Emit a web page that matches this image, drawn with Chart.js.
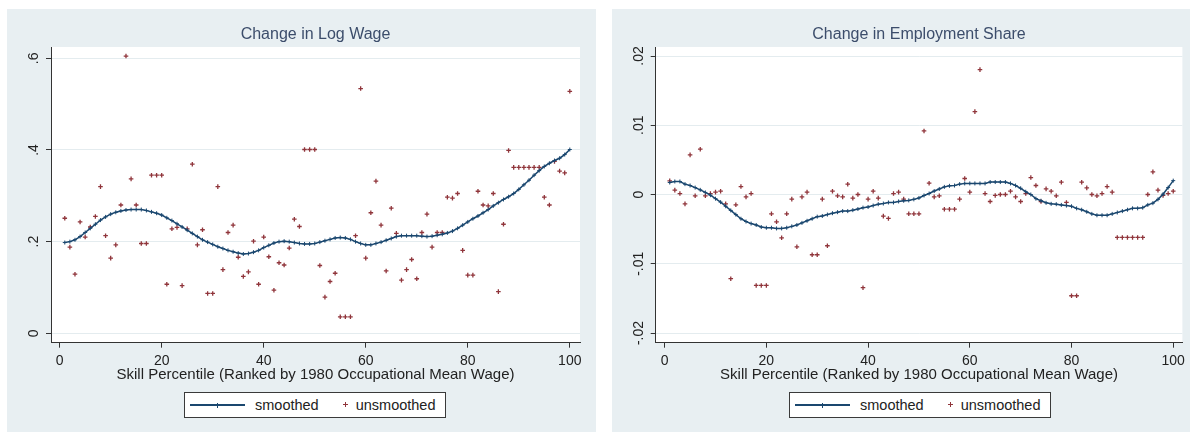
<!DOCTYPE html>
<html><head><meta charset="utf-8">
<script src="https://cdn.jsdelivr.net/npm/chart.js@4/dist/chart.umd.min.js"></script>
<style>
body{margin:0;width:1190px;height:432px;background:#fff;position:relative;overflow:hidden;font-family:"Liberation Sans",Arial,sans-serif;}
.panel{position:absolute;top:9px;height:423px;background:#e8eff2;}
#p1{left:7px;width:589px;}
#p2{left:612px;width:578px;}
canvas{position:absolute;left:0;top:0;}
.legend{position:absolute;left:177px;top:382.7px;width:262px;height:26px;box-sizing:border-box;border:1px solid #3a3a3a;background:#fff;color:#222;font-size:14.5px;}
.legend .ln{position:absolute;left:5px;top:11.5px;width:55px;height:1.4px;background:#1a476f;}
.legend .lv{position:absolute;left:31.5px;top:10px;width:1px;height:5px;background:#1a476f;}
.legend .t{position:absolute;top:0;line-height:24px;white-space:nowrap;}
.legend .mh{position:absolute;left:158px;top:11.5px;width:5px;height:1.3px;background:#90353b;}
.legend .mv{position:absolute;left:160px;top:9.6px;width:1.3px;height:5px;background:#90353b;}
</style></head>
<body>
<div class="panel" id="p1"><canvas id="c1" width="589" height="423"></canvas>
  <div class="legend"><div class="ln"></div><div class="lv"></div><span class="t" style="left:70px">smoothed</span><div class="mh"></div><div class="mv"></div><span class="t" style="left:170.7px">unsmoothed</span></div>
</div>
<div class="panel" id="p2"><canvas id="c2" width="578" height="423"></canvas>
  <div class="legend"><div class="ln"></div><div class="lv"></div><span class="t" style="left:70px">smoothed</span><div class="mh"></div><div class="mv"></div><span class="t" style="left:170.7px">unsmoothed</span></div>
</div>
<script>
// ---- data ----
const pct = [1,2,3,4,5,6,7,8,9,10,11,12,13,14,15,16,17,18,19,20,21,22,23,24,25,26,27,28,29,30,31,32,33,34,35,36,37,38,39,40,41,42,43,44,45,46,47,48,49,50,51,52,53,54,55,56,57,58,59,60,61,62,63,64,65,66,67,68,69,70,71,72,73,74,75,76,77,78,79,80,81,82,83,84,85,86,87,88,89,90,91,92,93,94,95,96,97,98,99,100];

const wageSmoothed = [.198,.200,.204,.211,.220,.229,.238,.247,.254,.260,
  .264,.267,.269,.270,.270,.270,.268,.265,.262,.258,
  .252,.246,.239,.232,.225,.218,.211,.204,.199,.194,
  .189,.185,.181,.178,.175,.173,.174,.177,.181,.187,
  .192,.197,.200,.201,.200,.198,.196,.195,.195,.196,
  .199,.202,.205,.208,.209,.208,.205,.200,.196,.193,
  .193,.196,.199,.203,.207,.211,.213,.213,.213,.213,
  .212,.211,.212,.214,.216,.219,.223,.229,.236,.243,
  .250,.256,.263,.270,.278,.285,.292,.298,.305,.314,
  .324,.334,.345,.355,.364,.371,.377,.382,.390,.401];

const wageRaw = [.251,.188,.129,.243,.210,.232,.255,.320,.213,.164,
  .193,.280,.605,.337,.280,.196,.196,.345,.345,.345,
  .107,.228,.231,.104,.228,.369,.193,.226,.087,.087,
  .320,.139,.220,.236,.166,.124,.134,.201,.107,.210,
  .167,.094,.154,.149,.186,.249,.233,.401,.401,.401,
  .148,.079,.113,.131,.036,.036,.036,.213,.534,.164,
  .263,.332,.236,.136,.273,.218,.116,.139,.161,.119,
  .220,.260,.188,.220,.220,.297,.295,.305,.181,.127,
  .127,.310,.280,.278,.305,.091,.238,.399,.362,.362,
  .362,.362,.362,.362,.297,.280,.375,.354,.350,.528];

const empSmoothed = [.00173,.00188,.00188,.0015,.0013,.001,.00067,.0003,-.0001,-.0006,
  -.0011,-.0017,-.0023,-.0029,-.0035,-.0039,-.0042,-.0044,-.0047,-.0048,
  -.0048,-.0049,-.0049,-.0048,-.0046,-.0044,-.0041,-.0038,-.0035,-.0032,
  -.0031,-.0029,-.0027,-.00255,-.0024,-.0024,-.00226,-.0021,-.0019,-.0018,
  -.0016,-.0014,-.0013,-.00115,-.00115,-.001,-.0009,-.00085,-.0007,-.0005,
  -.00014,.00014,.0005,.0008,.0011,.00125,.0013,.0015,.0016,.0016,
  .0016,.0016,.0016,.0018,.0018,.0018,.0018,.0016,.0013,.0009,
  .0004,0,-.0006,-.0009,-.0012,-.00135,-.0014,-.0015,-.0016,-.0017,
  -.002,-.0022,-.0025,-.0028,-.003,-.003,-.003,-.0028,-.0026,-.0024,
  -.0022,-.002,-.002,-.0019,-.0015,-.00125,-.0007,.00005,.001,.002];

const empRaw = [.00197,.00063,.00014,-.00135,.00572,-.00019,.00654,-.00019,.00014,.00034,
  .00048,-.00135,-.01216,-.00149,.00115,-.00034,.00014,-.01313,-.01313,-.01313,
  -.00279,-.00394,-.00625,-.00279,-.00067,-.00755,-.00034,.00034,-.0087,-.0087,
  -.00067,-.0074,.00048,-.00019,-.00034,.00149,-.00053,0,-.01346,-.00067,
  .00048,-.00053,-.00312,-.00346,.00014,.00034,-.00067,-.00279,-.00279,-.00279,
  .00918,.00163,-.00034,-.00019,-.00212,-.00212,-.00212,-.00067,.00231,.00034,
  .01197,.01803,.00014,-.00101,-.00014,0,0,.00048,-.00034,-.00101,
  .00014,.00245,.0013,-.00101,.00082,.00048,-.00019,.00178,-.00115,-.01462,
  -.01462,.00178,.00096,0,-.00019,.00014,.00115,.00034,-.0062,-.0062,
  -.0062,-.0062,-.0062,-.0062,0,.00327,.00063,-.00014,.00014,.00048];

const xTicks = [0,20,40,60,80,100];
const wageYTicks = [0,.2,.4,.6];
const wageYLabels = ["0",".2",".4",".6"];
const empYTicks = [-.02,-.01,0,.01,.02];
const empYLabels = ["-.02","-.01","0",".01",".02"];
const xTitle = "Skill Percentile (Ranked by 1980 Occupational Mean Wage)";
const titles = ["Change in Log Wage","Change in Employment Share"];
const seriesNames = ["smoothed","unsmoothed"];

// ---- drawing ----
const FONT = '"Liberation Sans", Arial, sans-serif';
const NAVY = '#1a476f', MAROON = '#90353b', GRID = '#e4ecef', AXIS = '#333';

function pts(ys){ return ys.map((y,i)=>({x:pct[i], y:y})); }

function makeChart(id, cfg){
  const decor = {
    id:'decor',
    beforeDraw(chart){
      const {ctx, chartArea:a} = chart;
      ctx.save(); ctx.fillStyle='#fff';
      ctx.fillRect(a.left, a.top, a.right-a.left, a.bottom-a.top);
      ctx.restore();
    },
    afterDraw(chart){
      const {ctx, chartArea:a} = chart;
      const ys = chart.scales.y;
      ctx.save();
      ctx.fillStyle = '#222';
      ctx.font = '14px ' + FONT;
      ctx.textAlign='center'; ctx.textBaseline='alphabetic';
      cfg.yTicks.forEach((v,i)=>{
        const py = ys.getPixelForValue(v);
        ctx.save(); ctx.translate(a.left-13, py); ctx.rotate(-Math.PI/2);
        ctx.fillText(cfg.yLabels[i], 0, 0); ctx.restore();
      });
      ctx.fillStyle = '#3c4d6b';
      ctx.font = '16px ' + FONT;
      ctx.textBaseline='middle';
      ctx.fillText(cfg.title, (a.left+a.right)/2, 26);
      ctx.restore();
    }
  };
  return new Chart(document.getElementById(id), {
    type:'scatter',
    data:{datasets:[
      {label:seriesNames[0], data:pts(cfg.smooth), showLine:true, borderColor:NAVY, backgroundColor:NAVY,
       borderWidth:1.5, pointStyle:'cross', pointRadius:2, pointBorderWidth:1, pointBorderColor:NAVY, tension:0, order:1},
      {label:seriesNames[1], data:pts(cfg.raw), showLine:false, borderColor:MAROON, backgroundColor:MAROON,
       pointStyle:'cross', pointRadius:2.3, pointBorderWidth:1.3, pointBorderColor:MAROON, order:2}
    ]},
    options:{
      responsive:false, animation:false, devicePixelRatio:1,
      layout:{padding:{top:38, left:0, right:cfg.padRight, bottom:48}},
      plugins:{legend:{display:false}, title:{display:false}, tooltip:{enabled:false}},
      scales:{
        x:{type:'linear', min:cfg.xMin, max:cfg.xMax,
          afterBuildTicks:s=>{ s.ticks = xTicks.map(v=>({value:v})); },
          ticks:{font:{family:FONT,size:14}, color:'#222', padding:5, maxRotation:0, autoSkip:false, callback:v=>String(v)},
          grid:{drawOnChartArea:false, drawTicks:true, tickLength:5, tickColor:AXIS, tickWidth:1},
          border:{display:true, color:AXIS, width:1},
          title:{display:true, text:xTitle, font:{family:FONT,size:15}, color:'#222', padding:{top:0,bottom:0}},
          afterFit:s=>{ s.height = 41.3; }
        },
        y:{type:'linear', min:cfg.yMin, max:cfg.yMax,
          afterBuildTicks:s=>{ s.ticks = cfg.yTicks.map(v=>({value:v})); },
          ticks:{display:false},
          grid:{color:GRID, lineWidth:1, drawTicks:true, tickLength:5, tickColor:AXIS, tickWidth:1},
          border:{display:true, color:AXIS, width:1},
          afterFit:s=>{ s.width = cfg.yWidth; }
        }
      }
    },
    plugins:[decor]
  });
}

makeChart('c1', {smooth:wageSmoothed, raw:wageRaw, yTicks:wageYTicks, yLabels:wageYLabels, title:titles[0],
  xMin:-1.70, xMax:102.0, yMin:-0.0205, yMax:0.6247, yWidth:44, padRight:16});
makeChart('c2', {smooth:empSmoothed, raw:empRaw, yTicks:empYTicks, yLabels:empYLabels, title:titles[1],
  xMin:-1.76, xMax:101.8, yMin:-0.0214, yMax:0.0213, yWidth:43.7, padRight:5});
</script>
</body></html>
